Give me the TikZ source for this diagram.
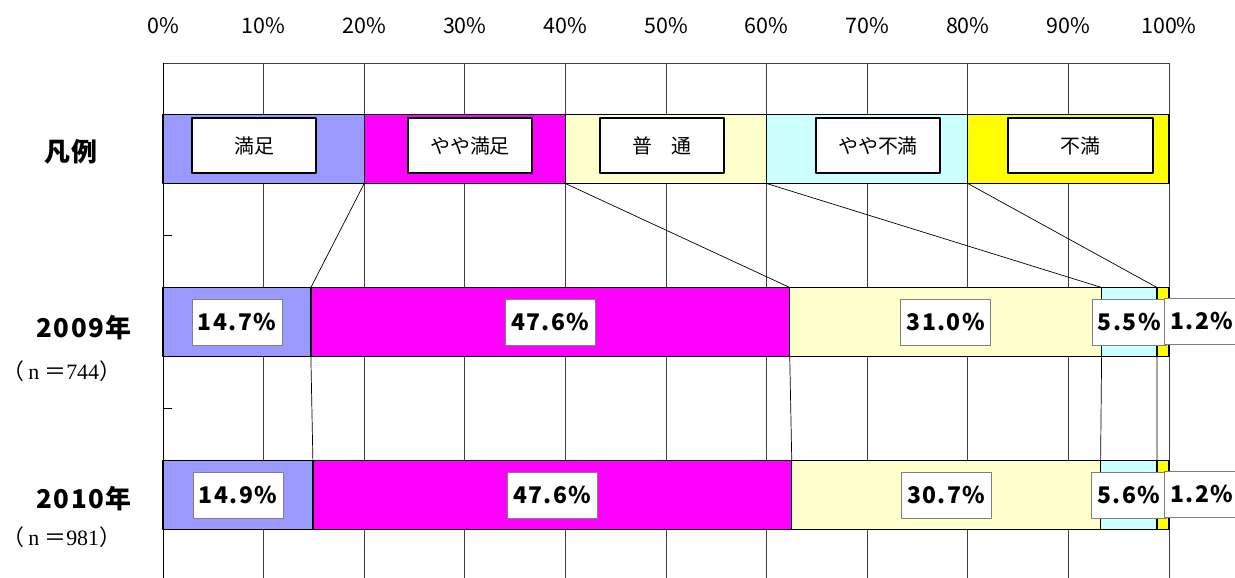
\documentclass[tikz,border=0pt]{standalone}
\usepackage{fontspec}
\setmainfont{Noto Sans CJK JP}
\newfontfamily\valfont[LetterSpace=6]{Noto Sans CJK JP}
\newfontfamily\nfont{Liberation Serif}
\definecolor{cmanzoku}{HTML}{9999FF}
\definecolor{cyaya}{HTML}{FF00FF}
\definecolor{cfutsu}{HTML}{FFFFCC}
\definecolor{cyayafu}{HTML}{CCFFFF}
\definecolor{cfuman}{HTML}{FFFF00}
\begin{document}
\begin{tikzpicture}[>=latex,line join=bevel,
  grid/.style={draw=black!75,line width=0.7bp},
  seg/.style={draw=black,line width=1.3bp,anchor=west,inner sep=0pt,outer sep=0pt,minimum height=69bp},
  legbox/.style={draw=black,line width=1.6bp,fill=white,inner sep=0pt,minimum height=55bp,font=\fontsize{20}{24}\selectfont},
  valbox/.style={draw=black!50,line width=0.8bp,fill=white,inner xsep=6bp,inner ysep=0pt,minimum height=46bp,font=\valfont\bfseries\fontsize{23}{28}\selectfont},
  axlab/.style={font=\fontsize{21.5}{25}\selectfont},
  yearlab/.style={font=\valfont\bfseries\fontsize{26}{30}\selectfont},
  nlab/.style={font=\fontsize{22}{26}\selectfont},
  link/.style={black,line width=0.7bp},
]
\useasboundingbox (0bp,0bp) rectangle (1235bp,578bp);
%%
\draw [grid] (163bp,515bp) -- (1169bp,515bp);
\draw [grid] (263.6bp,515bp) -- (263.6bp,0bp);
\draw [grid] (364.2bp,515bp) -- (364.2bp,0bp);
\draw [grid] (464.8bp,515bp) -- (464.8bp,0bp);
\draw [grid] (565.4bp,515bp) -- (565.4bp,0bp);
\draw [grid] (666.0bp,515bp) -- (666.0bp,0bp);
\draw [grid] (766.6bp,515bp) -- (766.6bp,0bp);
\draw [grid] (867.2bp,515bp) -- (867.2bp,0bp);
\draw [grid] (967.8bp,515bp) -- (967.8bp,0bp);
\draw [grid] (1068.4bp,515bp) -- (1068.4bp,0bp);
\draw [grid] (1169bp,515bp) -- (1169bp,0bp);
\draw [black,line width=1bp] (163bp,515bp) -- (163bp,0bp);
\draw [black,line width=1bp] (163bp,342bp) -- (172bp,342bp);
\draw [black,line width=1bp] (163bp,169bp) -- (172bp,169bp);
%
\node (ax_0) at (163bp,552.5bp) [axlab] {0\%};
\node (ax_1) at (263.6bp,552.5bp) [axlab] {10\%};
\node (ax_2) at (364.2bp,552.5bp) [axlab] {20\%};
\node (ax_3) at (464.8bp,552.5bp) [axlab] {30\%};
\node (ax_4) at (565.4bp,552.5bp) [axlab] {40\%};
\node (ax_5) at (666.0bp,552.5bp) [axlab] {50\%};
\node (ax_6) at (766.6bp,552.5bp) [axlab] {60\%};
\node (ax_7) at (867.2bp,552.5bp) [axlab] {70\%};
\node (ax_8) at (967.8bp,552.5bp) [axlab] {80\%};
\node (ax_9) at (1068.4bp,552.5bp) [axlab] {90\%};
\node (ax_10) at (1169bp,552.5bp) [axlab] {100\%};
%
\node (row_0) at (71bp,426bp) [yearlab] {凡例};
\node (row_1) at (84bp,250bp) [yearlab] {2009年};
\node (n_1) at (62bp,207bp) [nlab] {（\,{\nfont n} ＝{\nfont 744}）};
\node (row_2) at (84bp,79bp) [yearlab] {2010年};
\node (n_2) at (62bp,41bp) [nlab] {（\,{\nfont n} ＝{\nfont 981}）};
%
\node (leg_0) at (163bp,429bp) [seg,fill=cmanzoku,minimum width=201.2bp] {};
\node (leg_1) at (364.2bp,429bp) [seg,fill=cyaya,minimum width=201.2bp] {};
\node (leg_2) at (565.4bp,429bp) [seg,fill=cfutsu,minimum width=201.2bp] {};
\node (leg_3) at (766.6bp,429bp) [seg,fill=cyayafu,minimum width=201.2bp] {};
\node (leg_4) at (967.8bp,429bp) [seg,fill=cfuman,minimum width=201.2bp] {};
\node (key_0) at (254bp,432.5bp) [legbox,minimum width=124bp] {満足};
\node (key_1) at (470bp,432.5bp) [legbox,minimum width=124bp] {やや満足};
\node (key_2) at (662bp,432.5bp) [legbox,minimum width=124bp] {普　通};
\node (key_3) at (878bp,432.5bp) [legbox,minimum width=124bp] {やや不満};
\node (key_4) at (1080.5bp,432.5bp) [legbox,minimum width=145bp] {不満};
%
\node (y09_0) at (163bp,256bp) [seg,fill=cmanzoku,minimum width=147.88bp] {};
\node (y09_1) at (310.88bp,256bp) [seg,fill=cyaya,minimum width=478.86bp] {};
\node (y09_2) at (789.74bp,256bp) [seg,fill=cfutsu,minimum width=311.86bp] {};
\node (y09_3) at (1101.6bp,256bp) [seg,fill=cyayafu,minimum width=55.33bp] {};
\node (y09_4) at (1156.93bp,256bp) [seg,fill=cfuman,minimum width=12.07bp] {};
%
\node (y10_0) at (163bp,83bp) [seg,fill=cmanzoku,minimum width=149.89bp] {};
\node (y10_1) at (312.89bp,83bp) [seg,fill=cyaya,minimum width=478.86bp] {};
\node (y10_2) at (791.75bp,83bp) [seg,fill=cfutsu,minimum width=308.84bp] {};
\node (y10_3) at (1100.59bp,83bp) [seg,fill=cyayafu,minimum width=56.34bp] {};
\node (y10_4) at (1156.93bp,83bp) [seg,fill=cfuman,minimum width=12.07bp] {};
%
\draw [link] (leg_0.south east) -- (y09_0.north east);
\draw [link] (leg_1.south east) -- (y09_1.north east);
\draw [link] (leg_2.south east) -- (y09_2.north east);
\draw [link] (leg_3.south east) -- (y09_3.north east);
\draw [link] (y09_0.south east) -- (y10_0.north east);
\draw [link] (y09_1.south east) -- (y10_1.north east);
\draw [link] (y09_2.south east) -- (y10_2.north east);
\draw [link] (y09_3.south east) -- (y10_3.north east);
%
\node (val09_0) at (y09_0) [valbox] {14.7\%};
\node (val09_1) at (y09_1) [valbox] {47.6\%};
\node (val09_2) at (y09_2) [valbox] {31.0\%};
\node (val09_3) at (y09_3) [valbox] {5.5\%};
\node (val09_4) at (1164bp,257bp) [valbox,anchor=west] {1.2\%};
\node (val10_0) at (y10_0) [valbox] {14.9\%};
\node (val10_1) at (y10_1) [valbox] {47.6\%};
\node (val10_2) at (y10_2) [valbox] {30.7\%};
\node (val10_3) at (y10_3) [valbox] {5.6\%};
\node (val10_4) at (1164bp,84bp) [valbox,anchor=west] {1.2\%};
%
\end{tikzpicture}
\end{document}
